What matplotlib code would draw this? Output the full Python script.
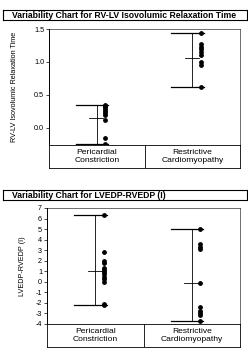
import matplotlib.pyplot as plt

plt.rcParams['font.family'] = ['Liberation Sans', 'DejaVu Sans']

# data
groups = ['Pericardial\nConstriction', 'Restrictive\nCardiomyopathy']

ivrt_peri = [0.35, 0.33, 0.31, 0.29, 0.26, 0.22, 0.19, 0.12, -0.15, -0.25]
ivrt_restr = [1.44, 1.27, 1.23, 1.19, 1.15, 1.10, 1.00, 0.95, 0.62]
ivrt_means = [0.15, 1.06]

edp_peri = [6.35, 2.8, 2.0, 1.8, 1.3, 1.1, 0.9, 0.7, 0.5, 0.3, 0.0, -2.1, -2.2]
edp_restr = [5.0, 3.6, 3.3, 3.1, -0.15, -2.4, -2.8, -3.0, -3.1, -3.7]
edp_means = [1.0, -0.15]

W, H = 248, 362
fig = plt.figure(figsize=(W / 100, H / 100), dpi=100)


def px(x0, y0, x1, y1):
    # pixel box (top-left origin) -> figure fraction rect
    return [x0 / W, 1 - y1 / H, (x1 - x0) / W, (y1 - y0) / H]


def panel(title, ylab, series, means, ylim, yticks, yfmt, tbox, abox, band_bottom, ylab_x):
    # title box
    tb = fig.add_axes(px(*tbox))
    tb.set_xticks([]); tb.set_yticks([])
    for s in tb.spines.values():
        s.set_linewidth(0.8)
    tb.text(0.035, 0.5, title, fontsize=6.2, fontweight='bold', va='center', ha='left')

    ax = fig.add_axes(px(*abox))
    for i, vals in enumerate(series):
        lo, hi = min(vals), max(vals)
        ax.plot([i, i], [lo, hi], color='black', lw=0.6)
        ax.plot([i - 0.22, i + 0.12], [hi, hi], color='black', lw=0.9)
        ax.plot([i - 0.22, i + 0.12], [lo, lo], color='black', lw=0.9)
        ax.plot([i - 0.08, i + 0.07], [means[i], means[i]], color='black', lw=0.6)
        ax.scatter([i + 0.09] * len(vals), vals, s=6, color='black', zorder=3)
    ax.set_xlim(-0.5, 1.5)
    ax.set_ylim(*ylim)
    ax.set_yticks(yticks)
    ax.set_yticklabels([yfmt.format(v) for v in yticks])
    ax.set_xticks([])
    ax.tick_params(axis='y', labelsize=5.2, length=2, width=0.5, pad=1.5)
    for s in ax.spines.values():
        s.set_linewidth(0.7)
    ax.spines['top'].set_linewidth(0.4)
    ax.spines['right'].set_linewidth(0.4)
    fig.text(ylab_x / W, 1 - (abox[1] + abox[3]) / 2 / H, ylab, rotation=90,
             fontsize=5.2, ha='center', va='center')

    # category band
    band = fig.add_axes(px(abox[0], abox[3], abox[2], band_bottom))
    band.set_xlim(-0.5, 1.5)
    band.set_ylim(0, 1)
    band.set_xticks([]); band.set_yticks([])
    for s in band.spines.values():
        s.set_linewidth(0.6)
    band.axvline(0.5, color='black', lw=0.6)
    for i, g in enumerate(groups):
        band.text(i, 0.5, g, fontsize=6.1, ha='center', va='center', linespacing=1.15)


panel('Variability Chart for RV-LV Isovolumic Relaxation Time',
      'RV-LV Isovolumic Relaxation Time',
      [ivrt_peri, ivrt_restr], ivrt_means,
      (-0.26, 1.5), [0.0, 0.5, 1.0, 1.5], '{:.1f}',
      (3, 10, 247, 20), (49, 29, 240, 145), 168, 15)

panel('Variability Chart for LVEDP-RVEDP (I)',
      'LVEDP-RVEDP (I)',
      [edp_peri, edp_restr], edp_means,
      (-4, 7), list(range(-4, 8)), '{:d}',
      (3, 190, 247, 200), (47, 208, 240, 324), 347, 23)

fig.savefig('out.png', dpi=100)
